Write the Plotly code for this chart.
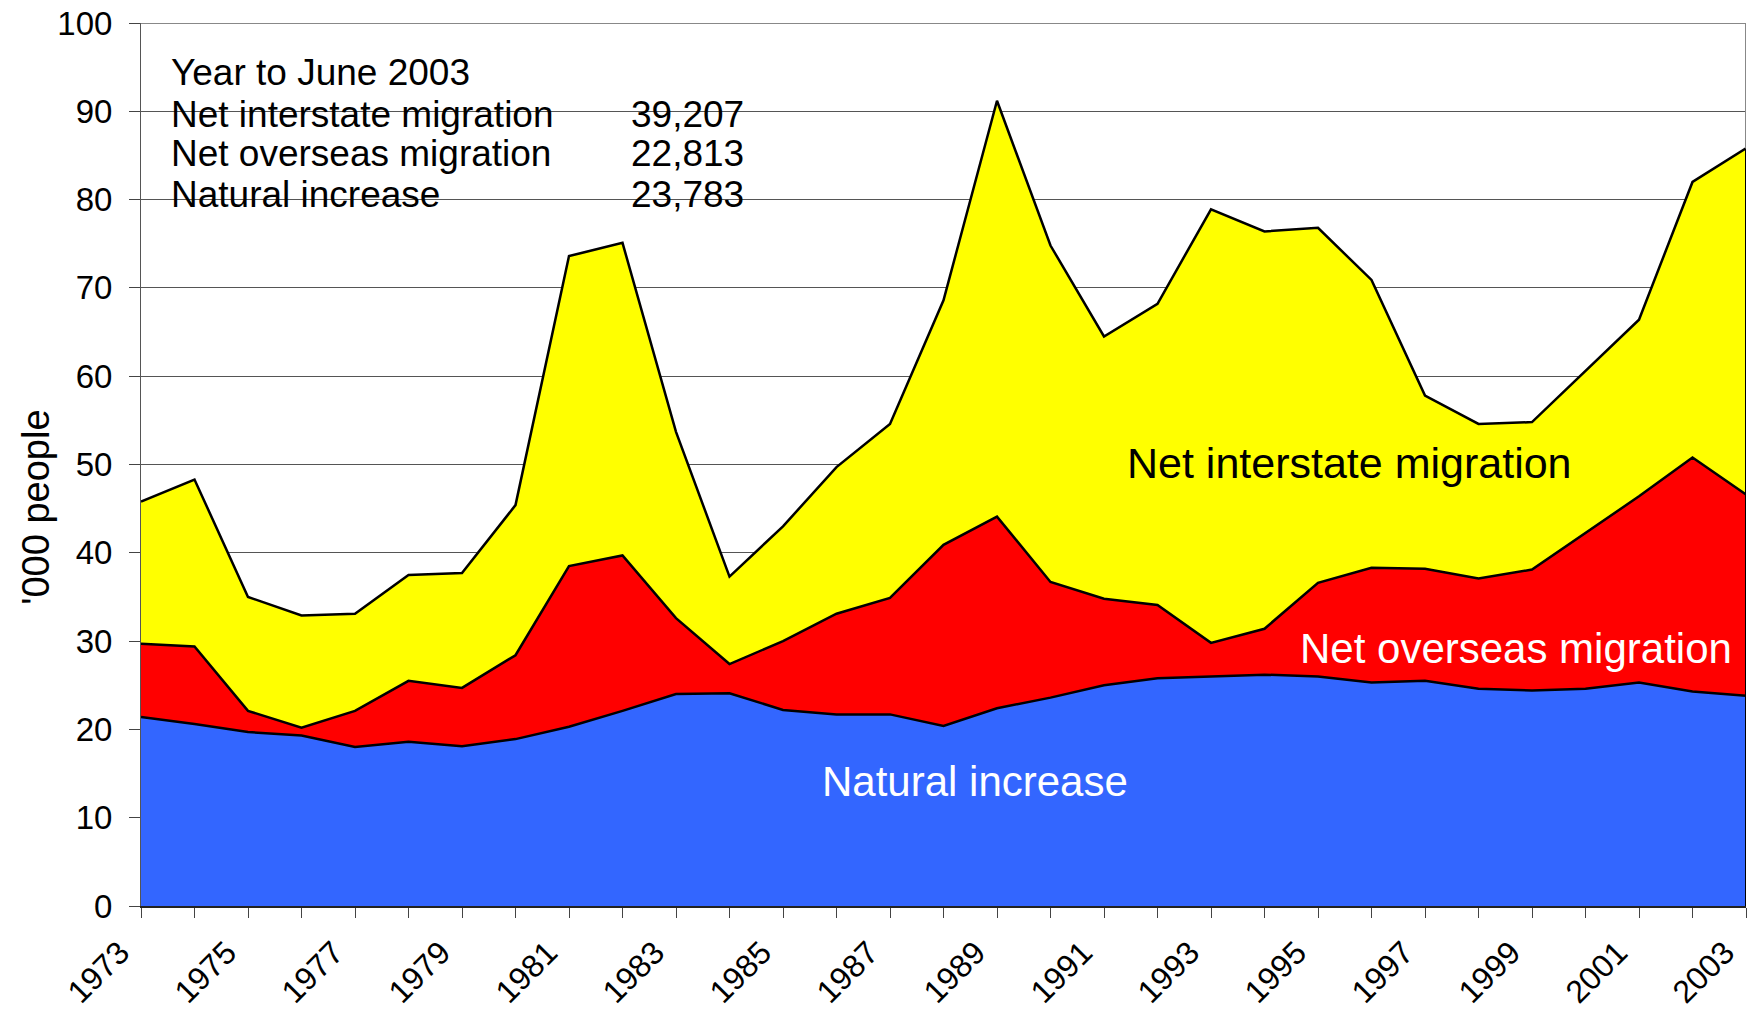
import plotly.graph_objects as go

years = list(range(1973, 2004))
label_years = list(range(1973, 2004, 2))
label_text = [str(y) for y in label_years]

natural_increase = [21.4, 20.6, 19.7, 19.3, 18.0, 18.6, 18.1, 18.9, 20.3, 22.1,
                    24.0, 24.1, 22.2, 21.7, 21.7, 20.4, 22.4, 23.6, 25.0, 25.8,
                    26.0, 26.2, 26.0, 25.3, 25.5, 24.6, 24.4, 24.6, 25.3, 24.3, 23.8]
# cumulative tops
top_overseas = [29.7, 29.4, 22.1, 20.2, 22.1, 25.5, 24.7, 28.4, 38.5, 39.7,
                32.6, 27.4, 30.0, 33.1, 34.9, 40.9, 44.1, 36.7, 34.8, 34.1,
                29.8, 31.4, 36.6, 38.3, 38.2, 37.1, 38.1, 42.2, 46.4, 50.8, 46.6]
top_interstate = [45.8, 48.3, 35.0, 32.9, 33.1, 37.5, 37.7, 45.4, 73.6, 75.1,
                  53.7, 37.3, 43.0, 49.7, 54.6, 68.6, 91.2, 74.8, 64.5, 68.2,
                  78.9, 76.4, 76.8, 70.9, 57.8, 54.6, 54.8, 60.6, 66.4, 82.0, 85.8]

net_overseas = [round(o - n, 2) for o, n in zip(top_overseas, natural_increase)]
net_interstate = [round(t - o, 2) for t, o in zip(top_interstate, top_overseas)]

summary_title = "Year to June 2003"
summary_labels = ["Net interstate migration", "Net overseas migration", "Natural increase"]
summary_values = ["39,207", "22,813", "23,783"]

FONT = "Liberation Sans, Arial, sans-serif"

fig = go.Figure()
series = [
    ("Natural increase", natural_increase, "#3366FF"),
    ("Net overseas migration", net_overseas, "#FF0000"),
    ("Net interstate migration", net_interstate, "#FFFF00"),
]
for name, vals, col in series:
    fig.add_trace(go.Scatter(
        x=years, y=vals, name=name, mode="lines",
        stackgroup="one", fillcolor=col,
        line=dict(color="black", width=2.5),
        hoverinfo="x+y+name",
    ))

W, H = 1749, 1014
ml, mr, mt, mb = 141, 3, 23, 108

fig.update_layout(
    width=W, height=H,
    margin=dict(l=ml, r=mr, t=mt, b=mb, pad=0),
    paper_bgcolor="white", plot_bgcolor="white",
    showlegend=False,
    font=dict(family=FONT, color="black", size=33),
    xaxis=dict(
        range=[1973, 2003], automargin=False,
        tickmode="array", tickvals=label_years, ticktext=label_text,
        ticks="outside", ticklen=10, tickcolor="#444", tickwidth=1,
        tickangle=-45, tickfont=dict(size=32),
        ticklabelshift=-21, ticklabelstandoff=3,
        minor=dict(dtick=1, tick0=1973, ticks="outside", ticklen=10, tickcolor="#444", showgrid=False),
        showgrid=False, zeroline=False,
        showline=True, linecolor="#222", linewidth=2,
    ),
    yaxis=dict(
        range=[0, 100], dtick=10, automargin=False,
        ticks="outside", ticklen=11, tickcolor="#444", tickwidth=1,
        tickfont=dict(size=33), ticklabelstandoff=10,
        showgrid=True, gridcolor="#555555", gridwidth=1,
        zeroline=False,
        showline=True, linecolor="#555", linewidth=1,
    ),
)

# plot-area border (top and right)
fig.add_shape(type="line", xref="paper", yref="y", x0=0, x1=1, y0=100, y1=100,
              line=dict(color="#888888", width=2), layer="above")
fig.add_shape(type="line", xref="x", yref="y", x0=years[-1], x1=years[-1], y0=0, y1=100,
              line=dict(color="#888888", width=2), layer="above")
fig.add_shape(type="line", xref="x", yref="y", x0=years[-1], x1=years[-1], y0=0,
              y1=top_interstate[-1], line=dict(color="black", width=2), layer="above")

# white box behind the summary text (hides gridlines)
fig.add_shape(type="rect", xref="x", yref="y", x0=1973.37, x1=1985.0, y0=76.5, y1=97,
              fillcolor="white", line=dict(width=0), layer="below")

# summary text block
line_y = [94.45, 89.66, 85.2, 80.6]
fig.add_annotation(xref="x", yref="y", x=1973.53, y=line_y[0], text=summary_title,
                   showarrow=False, xanchor="left", yanchor="middle",
                   font=dict(size=37, family=FONT))
for lab, val, yy in zip(summary_labels, summary_values, line_y[1:]):
    fig.add_annotation(xref="x", yref="y", x=1973.53, y=yy, text=lab,
                       showarrow=False, xanchor="left", yanchor="middle",
                       font=dict(size=37, family=FONT))
    fig.add_annotation(xref="x", yref="y", x=1984.3, y=yy, text=val,
                       showarrow=False, xanchor="right", yanchor="middle",
                       font=dict(size=37, family=FONT))

# in-chart labels
fig.add_annotation(xref="x", yref="y", x=1995.58, y=50.2, text="Net interstate migration",
                   showarrow=False, xanchor="center", yanchor="middle",
                   font=dict(size=43, family=FONT, color="black"))
fig.add_annotation(xref="x", yref="y", x=1998.70, y=29.2, text="Net overseas migration",
                   showarrow=False, xanchor="center", yanchor="middle",
                   font=dict(size=42, family=FONT, color="white"))
fig.add_annotation(xref="x", yref="y", x=1988.58, y=14.1, text="Natural increase",
                   showarrow=False, xanchor="center", yanchor="middle",
                   font=dict(size=42, family=FONT, color="white"))

# y-axis title
fig.add_annotation(xref="paper", yref="y", x=(36 - ml) / (W - ml - mr), y=45.1,
                   text="'000 people", textangle=-90, showarrow=False,
                   xanchor="center", yanchor="middle",
                   font=dict(size=38, family=FONT))

fig.write_html("out.html", config={"displayModeBar": False},
               post_script="document.body.style.margin='0';document.body.style.overflow='hidden';")
